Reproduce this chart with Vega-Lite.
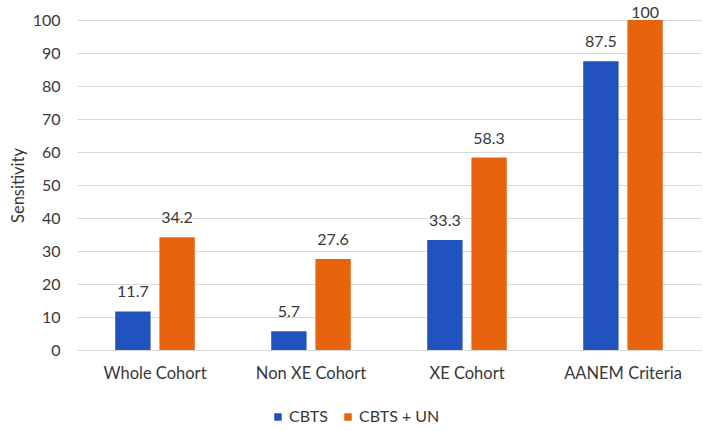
{
  "$schema": "https://vega.github.io/schema/vega-lite/v6.json",
  "width": 624,
  "height": 330,
  "autosize": {"type": "none"},
  "padding": {"left": 77, "top": 20, "right": 2, "bottom": 81},
  "background": "white",
  "config": {
    "view": {"stroke": null},
    "font": "Lato",
    "axis": {"labelFont": "Lato", "titleFont": "Lato"}
  },
  "data": {
    "values": [
      {"category": "Whole Cohort", "series": "CBTS", "value": 11.7},
      {"category": "Whole Cohort", "series": "CBTS + UN", "value": 34.2},
      {"category": "Non XE Cohort", "series": "CBTS", "value": 5.7},
      {"category": "Non XE Cohort", "series": "CBTS + UN", "value": 27.6},
      {"category": "XE Cohort", "series": "CBTS", "value": 33.3},
      {"category": "XE Cohort", "series": "CBTS + UN", "value": 58.3},
      {"category": "AANEM Criteria", "series": "CBTS", "value": 87.5},
      {"category": "AANEM Criteria", "series": "CBTS + UN", "value": 100}
    ]
  },
  "encoding": {
    "x": {
      "field": "category",
      "type": "nominal",
      "sort": ["Whole Cohort", "Non XE Cohort", "XE Cohort", "AANEM Criteria"],
      "scale": {"paddingInner": 0.49, "paddingOuter": 0.245},
      "axis": {
        "title": null,
        "labelAngle": 0,
        "labelFontSize": 16.5,
        "labelColor": "#383838",
        "labelPadding": 15,
        "ticks": false,
        "domain": true,
        "domainColor": "#d9d9d9",
        "domainWidth": 1
      }
    },
    "xOffset": {
      "field": "series",
      "type": "nominal",
      "sort": ["CBTS", "CBTS + UN"],
      "scale": {"paddingInner": 0.2, "paddingOuter": 0}
    },
    "y": {
      "field": "value",
      "type": "quantitative",
      "scale": {"domain": [0, 100], "nice": false},
      "axis": {
        "title": "Sensitivity",
        "titleFontSize": 16.5,
        "titleFontWeight": "normal",
        "titleColor": "#383838",
        "titlePadding": 6,
        "values": [0, 10, 20, 30, 40, 50, 60, 70, 80, 90, 100],
        "labelFontSize": 16,
        "labelColor": "#383838",
        "labelPadding": 17,
        "ticks": false,
        "domain": false,
        "gridColor": "#d9d9d9",
        "gridWidth": 1
      }
    }
  },
  "layer": [
    {
      "mark": {"type": "bar"},
      "encoding": {
        "color": {
          "field": "series",
          "type": "nominal",
          "sort": ["CBTS", "CBTS + UN"],
          "scale": {"domain": ["CBTS", "CBTS + UN"], "range": ["#2152BE", "#E8640C"]},
          "legend": {
            "title": null,
            "orient": "none",
            "direction": "horizontal",
            "legendX": 193,
            "legendY": 389,
            "symbolType": "square",
            "symbolSize": 56,
            "symbolStrokeWidth": 0,
            "labelFontSize": 16,
            "labelColor": "#383838",
            "labelOffset": 3,
            "columnPadding": 12
          }
        }
      }
    },
    {
      "transform": [{"filter": "datum.value < 100"}],
      "mark": {"type": "text", "baseline": "alphabetic", "dy": -14, "fontSize": 16, "color": "#383838"},
      "encoding": {
        "text": {"field": "value", "type": "quantitative"}
      }
    },
    {
      "transform": [{"filter": "datum.value >= 100"}],
      "mark": {"type": "text", "baseline": "alphabetic", "dy": -2, "fontSize": 16, "color": "#383838"},
      "encoding": {
        "text": {"field": "value", "type": "quantitative"}
      }
    }
  ]
}
